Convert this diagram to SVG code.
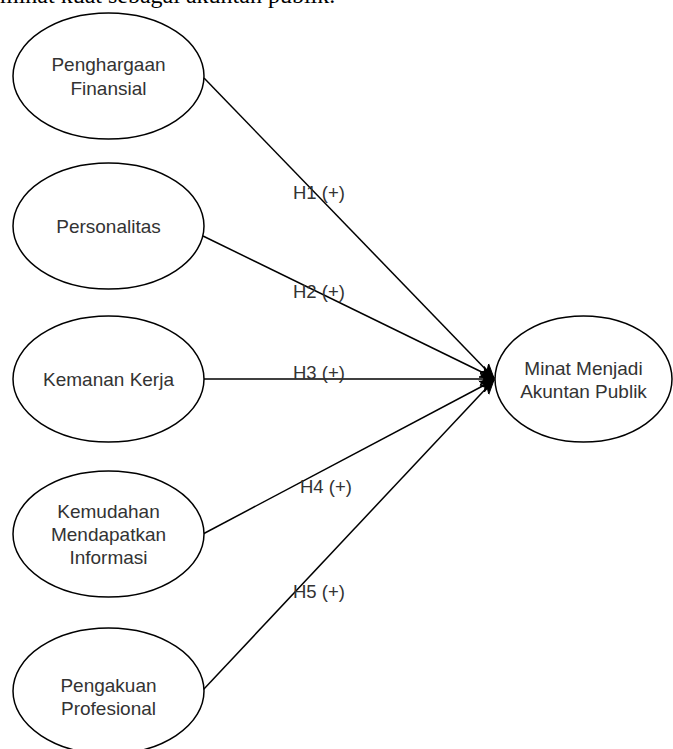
<svg xmlns="http://www.w3.org/2000/svg" width="673" height="749" viewBox="0 0 673 749">
<style>
.node ellipse{fill:#fff;stroke:#000;stroke-width:1.5}
.node text{font-family:"Liberation Sans",Arial,sans-serif;font-size:19px;fill:#333;text-anchor:middle}
.edge line{stroke:#000;stroke-width:1.5;marker-end:url(#arr)}
.lbl{font-family:"Liberation Sans",Arial,sans-serif;font-size:18.5px;fill:#333}
.page{font-family:"Liberation Serif","Times New Roman",serif;font-size:24px;fill:#000}
</style>
<defs>
<marker id="arr" markerUnits="userSpaceOnUse" markerWidth="16" markerHeight="14" refX="14" refY="7" orient="auto">
<path d="M0,1 L14,7 L0,13 L4,7 Z" fill="#000" stroke="#000" stroke-width="1"/>
</marker>
</defs>
<rect width="673" height="749" fill="#fff"/>
<text class="page" x="0" y="3">minat kuat sebagai akuntan publik.</text>
<g id="edges" class="edge">
<line x1="204" y1="78" x2="494" y2="378"/>
<line x1="203" y1="236" x2="494" y2="378"/>
<line x1="204" y1="379" x2="494" y2="379"/>
<line x1="203" y1="534" x2="494" y2="380"/>
<line x1="203" y1="690" x2="494" y2="380"/>
<text class="lbl" x="293" y="199">H1 (+)</text>
<text class="lbl" x="293" y="298">H2 (+)</text>
<text class="lbl" x="293" y="379">H3 (+)</text>
<text class="lbl" x="300" y="493">H4 (+)</text>
<text class="lbl" x="293" y="598">H5 (+)</text>
</g>
<g id="n1" class="node">
<ellipse cx="108.5" cy="76" rx="95.5" ry="63"/>
<text x="108.5" y="70.5">Penghargaan</text>
<text x="108.5" y="94.5">Finansial</text>
</g>
<g id="n2" class="node">
<ellipse cx="108.5" cy="226" rx="95.5" ry="63"/>
<text x="108.5" y="233">Personalitas</text>
</g>
<g id="n3" class="node">
<ellipse cx="108.5" cy="379" rx="95.5" ry="63"/>
<text x="108.5" y="386">Kemanan Kerja</text>
</g>
<g id="n4" class="node">
<ellipse cx="108.5" cy="534" rx="95.5" ry="63"/>
<text x="108.5" y="518">Kemudahan</text>
<text x="108.5" y="541">Mendapatkan</text>
<text x="108.5" y="564">Informasi</text>
</g>
<g id="n5" class="node">
<ellipse cx="108.5" cy="691" rx="95.5" ry="63"/>
<text x="108.5" y="692">Pengakuan</text>
<text x="108.5" y="715">Profesional</text>
</g>
<g id="n6" class="node">
<ellipse cx="583.5" cy="379" rx="88.5" ry="63"/>
<text x="583.5" y="374.5">Minat Menjadi</text>
<text x="583.5" y="397.5">Akuntan Publik</text>
</g>
</svg>
